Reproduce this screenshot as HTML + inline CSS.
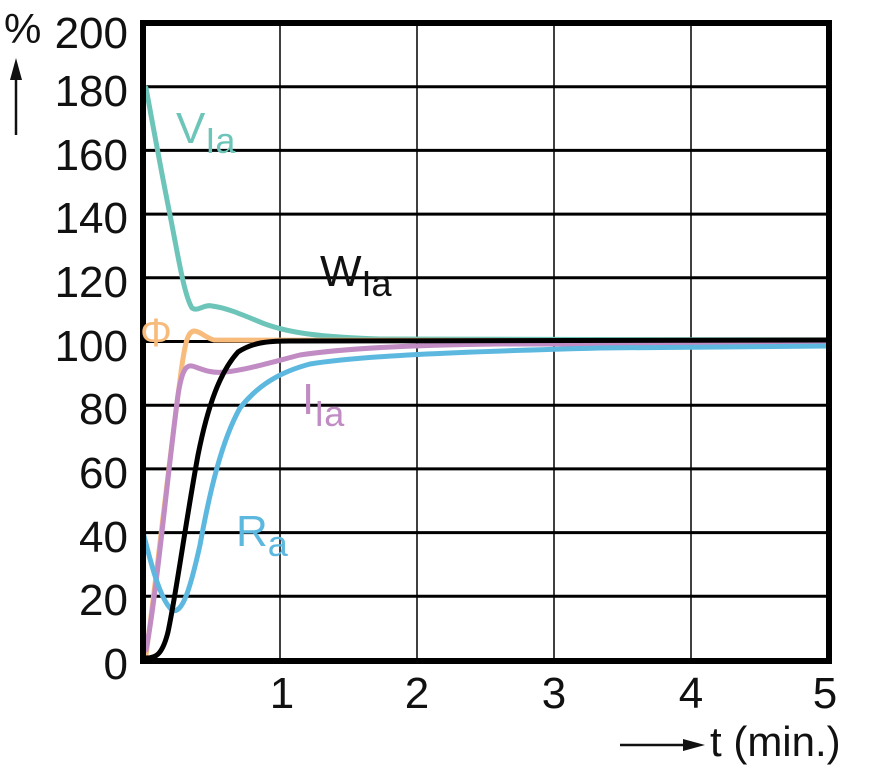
<!DOCTYPE html>
<html><head><style>
body{margin:0;background:#fff;}
svg{display:block;font-family:"Liberation Sans",Arial,sans-serif;}
</style></head><body>
<svg width="874" height="768" viewBox="0 0 874 768">
<g stroke="#000" stroke-width="3">
<line x1="143" y1="86.7" x2="829" y2="86.7"/>
<line x1="143" y1="150.4" x2="829" y2="150.4"/>
<line x1="143" y1="214.1" x2="829" y2="214.1"/>
<line x1="143" y1="277.8" x2="829" y2="277.8"/>
<line x1="143" y1="341.5" x2="829" y2="341.5"/>
<line x1="143" y1="405.2" x2="829" y2="405.2"/>
<line x1="143" y1="468.9" x2="829" y2="468.9"/>
<line x1="143" y1="532.6" x2="829" y2="532.6"/>
<line x1="143" y1="596.3" x2="829" y2="596.3"/>
</g>
<g stroke="#000" stroke-width="1.5">
<line x1="280" y1="23" x2="280" y2="660"/>
<line x1="417" y1="23" x2="417" y2="660"/>
<line x1="554" y1="23" x2="554" y2="660"/>
<line x1="691" y1="23" x2="691" y2="660"/>
</g>
<g fill="none" stroke-width="5" stroke-linecap="round" stroke-linejoin="round">
<path stroke="#6cc5b8" d="M146,88 C152,120 160,165 170,215 C178,255 184,295 192,308 C198,312 204,304 212,306 C228,308 245,316 265,324 C290,333 320,337 380,339 L829,340"/>
<path stroke="#f7bb7c" d="M146,655 C155,590 168,470 180,380 C185,340 188,332 194,331 C200,331 206,338 214,340 L829,341"/>
<path stroke="#c18bc4" d="M146,650 C156,600 168,470 178,395 C182,370 186,365 192,366 C200,368 210,374 225,372 C245,370 265,364 300,355 C340,349 400,345 500,344 L829,344"/>
<path stroke="#5db8e0" d="M143,532 C150,560 160,600 172,610 C182,615 190,590 200,545 C210,490 222,440 240,408 C258,385 280,372 310,364 C360,356 450,352 600,348 L829,346"/>
<path stroke="#000" d="M146,658 C155,658 162,656 168,632 C176,595 186,520 198,455 C208,405 220,372 238,352 C252,343 265,341 290,341 L829,340"/>
</g>
<rect x="143" y="23" width="686" height="638" fill="none" stroke="#000" stroke-width="6"/>
<g font-size="44" fill="#111" text-anchor="end">
<text x="128" y="48">200</text>
<text x="128" y="106">180</text>
<text x="128" y="170">160</text>
<text x="128" y="233">140</text>
<text x="128" y="297">120</text>
<text x="128" y="361">100</text>
<text x="128" y="424">80</text>
<text x="128" y="488">60</text>
<text x="128" y="552">40</text>
<text x="128" y="615">20</text>
<text x="128" y="679">0</text>
</g>
<text x="4" y="43" font-size="42" fill="#111">%</text>
<line x1="16" y1="135" x2="16" y2="78" stroke="#111" stroke-width="2.5"/>
<polygon points="16,58 10,80 22,80" fill="#111"/>
<g font-size="44" fill="#111" text-anchor="middle">
<text x="282" y="708">1</text>
<text x="417" y="708">2</text>
<text x="554" y="708">3</text>
<text x="691" y="708">4</text>
<text x="825" y="708">5</text>
</g>
<line x1="620" y1="745" x2="685" y2="745" stroke="#111" stroke-width="2.5"/>
<polygon points="705,745 683,739 683,751" fill="#111"/>
<text x="710" y="756" font-size="42" fill="#111">t (min.)</text>
<text x="176" y="143" font-size="44" fill="#6cc5b8">V<tspan font-size="36" dy="10">Ia</tspan></text>
<text x="320" y="286" font-size="44" fill="#111">W<tspan font-size="36" dy="10">Ia</tspan></text>
<text x="140" y="346" font-size="40" fill="#f7bb7c">Φ</text>
<text x="302" y="414" font-size="44" fill="#c18bc4">I<tspan font-size="36" dy="12">Ia</tspan></text>
<text x="236" y="546" font-size="44" fill="#5db8e0">R<tspan font-size="36" dy="10">a</tspan></text>
</svg>
</body></html>
